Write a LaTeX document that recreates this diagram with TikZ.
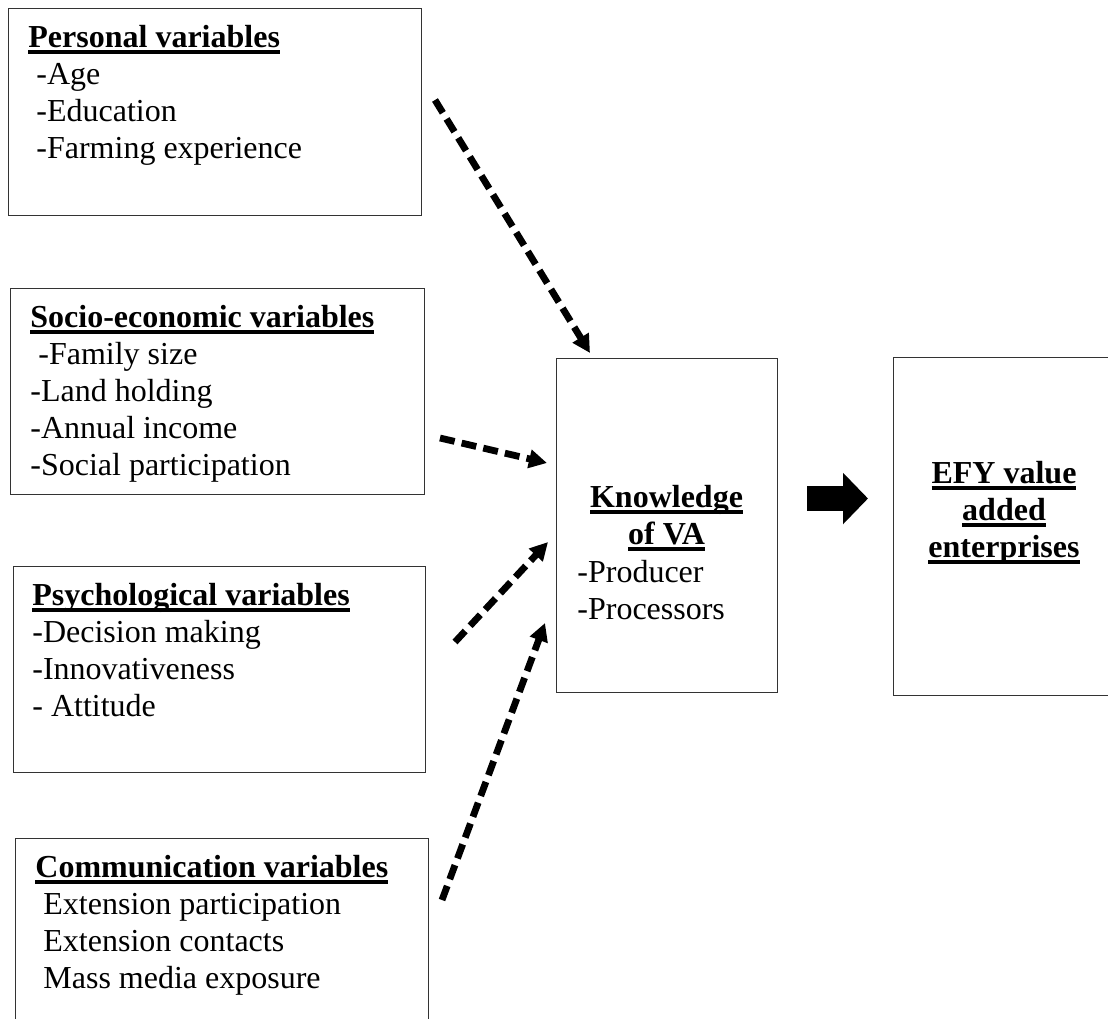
\documentclass[tikz,border=0pt]{standalone}
\usepackage{fontspec}
\setmainfont{Liberation Serif}
\usetikzlibrary{arrows.meta,positioning}
\newsavebox{\hdbox}
\newcommand{\ind}{\hspace*{4pt}}
\newcommand{\hd}[1]{\sbox{\hdbox}{\textbf{#1}}%
  \rlap{\rule[-3.3pt]{\wd\hdbox}{2pt}}\usebox{\hdbox}}

\begin{document}
\begin{tikzpicture}[x=0.5pt,y=-0.5pt,
  box/.style={draw=black!80,line width=0.7pt,inner sep=0pt,anchor=north west},
  txt/.style={inner sep=0pt,align=left,anchor=base west,
    font=\fontsize{16pt}{18.5pt}\selectfont},
  ctxt/.style={txt,align=center,anchor=base},
  dasharrow/.style={line width=3.4pt,dash pattern=on 7.5pt off 3.6pt,
    -{Triangle[width=9pt,length=9pt]}},
  bigarrow/.style={line width=12.5pt,-{Triangle[width=25pt,length=12.5pt]}}]
  \clip (0,0) rectangle (1108,1018);

  % boxes on the left
  \node[box,minimum width=206.5pt,minimum height=103.5pt] (pers) at (8,8) {};
  \node[box,minimum width=207pt,minimum height=103pt] (socio) at (10,288) {};
  \node[box,minimum width=206pt,minimum height=103pt] (psych) at (13,566) {};
  \node[box,minimum width=206.5pt,minimum height=110pt] (comm) at (15,838) {};

  % middle and right boxes
  \node[box,minimum width=110.5pt,minimum height=167pt] (know) at (556,358) {};
  \node[box,minimum width=111pt,minimum height=169pt] (efy) at (893,357) {};

  % texts (placed at the baseline of their last line)
  \node[txt] (perstext) at (28,158)
    {\hd{Personal variables}\\\ind-Age\\\ind-Education\\\ind-Farming experience};
  \node[txt] (sociotext) at (30,475)
    {\hd{Socio-economic variables}\\\ind-Family size\\-Land holding\\-Annual income\\-Social participation};
  \node[txt] (psychtext) at (32,716)
    {\hd{Psychological variables}\\-Decision making\\-Innovativeness\\- Attitude};
  \node[txt] (commtext) at (35,988)
    {\hd{Communication variables}\\\ind Extension participation\\\ind Extension contacts\\\ind Mass media exposure};
  \node[ctxt] (knowhead) at (666.5,544) {\hd{Knowledge}\\\hd{of VA}};
  \node[txt] (knowtext) at (577,619) {-Producer\\-Processors};
  \node[ctxt] (efytext) at (1004,557) {\hd{EFY value}\\\hd{added}\\\hd{enterprises}};

  % arrow ends
  \coordinate (persfrom) at (435,100);
  \coordinate (persto) at (590,353);
  \coordinate (sociofrom) at (440,438);
  \coordinate (socioto) at (547,463);
  \coordinate (psychfrom) at (455,642);
  \coordinate (psychto) at (548,542);
  \coordinate (commfrom) at (442,900);
  \coordinate (commto) at (545,623);
  \coordinate (knowout) at (807,498.5);
  \coordinate (efyin) at (868,498.5);

  % dashed arrows into knowledge
  \draw[dasharrow] (persfrom) -- (persto);
  \draw[dasharrow] (sociofrom) -- (socioto);
  \draw[dasharrow] (psychfrom) -- (psychto);
  \draw[dasharrow] (commfrom) -- (commto);

  % block arrow
  \draw[bigarrow] (knowout) -- (efyin);
\end{tikzpicture}
\end{document}
